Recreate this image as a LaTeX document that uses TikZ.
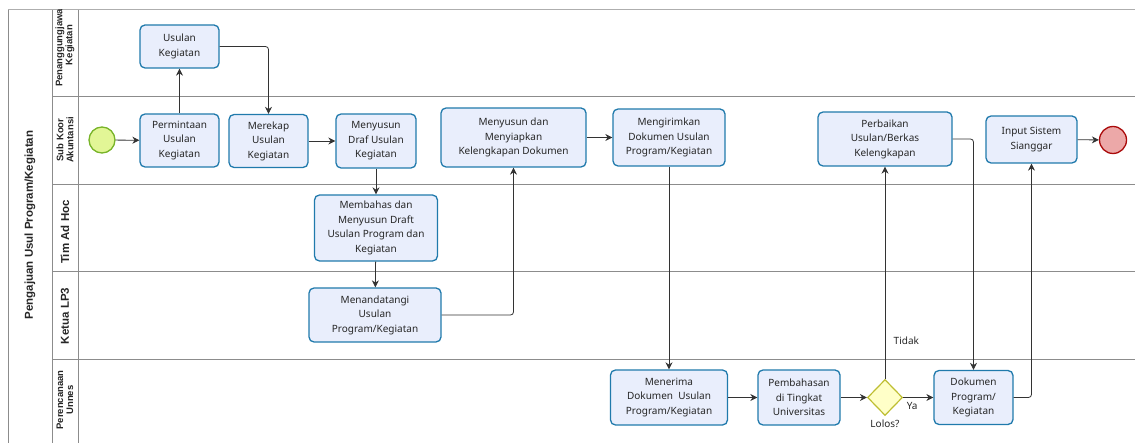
\documentclass[tikz,border=0pt]{standalone}
\usepackage{fontspec}
\setmainfont{Noto Sans}
\newfontfamily\lanefont{Liberation Sans}
\usepackage{xcolor}
\usepackage{tikz}
\usetikzlibrary{arrows.meta,shapes.geometric}

\definecolor{taskfill}{RGB}{233,238,252}
\definecolor{taskline}{RGB}{32,122,172}
\definecolor{startfill}{RGB}{226,246,150}
\definecolor{startline}{RGB}{120,180,40}
\definecolor{endfill}{RGB}{236,168,168}
\definecolor{endline}{RGB}{170,10,10}
\definecolor{gatefill}{RGB}{255,255,200}
\definecolor{gateline}{RGB}{190,190,50}
\definecolor{laneline}{RGB}{140,140,140}

\begin{document}
\begin{tikzpicture}[
  x=1pt, y=-1pt,
  font=\fontsize{10}{14.5}\selectfont,
  task/.style={rectangle, rounded corners=5pt, draw=taskline, fill=taskfill,
               line width=1.3pt, align=center, inner sep=0pt, text=black!85},
  event/.style={circle, inner sep=0pt, minimum size=26pt, line width=1.3pt},
  gate/.style={diamond, draw=gateline, fill=gatefill, line width=1.2pt,
               inner sep=0pt, minimum width=35pt, minimum height=36pt},
  lane/.style={draw=laneline, line width=1pt},
  lanelbl/.style={rotate=90, font=\lanefont\fontsize{9.5}{10}\selectfont\bfseries,
                  align=center, text=black!85},
  biglbl/.style={lanelbl, font=\lanefont\fontsize{11.5}{13}\selectfont\bfseries},
  arr/.style={-{Stealth[length=7pt,width=7pt]}, line width=0.8pt, black!80,
              rounded corners=3pt},
  tag/.style={text=black!85},
]
\useasboundingbox (0,0) rectangle (1135,443);

%% ---- Pool and lanes ----
\draw[laneline!70, line width=1pt] (8,10) -- (1135,10);
\draw[lane] (8,10) -- (8,443);
\draw[lane] (52,10) -- (52,443);
\draw[lane] (78,10) -- (78,443);
\foreach \y in {97,185,272,360}
  \draw[lane] (52,\y) -- (1135,\y);

\node[biglbl] (pool) at (30,225) {Pengajuan Usul Program/Kegiatan};
\begin{scope}
  \clip (52,10) rectangle (78,97);
  \node[lanelbl] (pj) at (65,45) {Penanggungjawab\\Kegiatan};
\end{scope}
\node[lanelbl] (sub)  at (65,140) {Sub Koor\\Akuntansi};
\node[biglbl]  (tim)  at (65,232) {Tim Ad Hoc};
\node[biglbl]  (lp3)  at (65,316) {Ketua LP3};
\node[lanelbl] (unn)  at (65,400) {Perencanaan\\Unnes};

%% ---- Events ----
\node[event, draw=startline, fill=startfill] (start) at (102,140) {};
\node[event, draw=endline, fill=endfill, minimum size=27pt] (end) at (1113,140) {};

%% ---- Tasks ----
\node[task, minimum width=79pt, minimum height=43pt] (usulan) at (179.5,46.5)
  {Usulan\\Kegiatan};
\node[task, minimum width=79pt, minimum height=53pt] (permintaan) at (179.5,140.5)
  {Permintaan\\Usulan\\Kegiatan};
\node[task, minimum width=79pt, minimum height=53pt] (merekap) at (268.5,141)
  {Merekap\\Usulan\\Kegiatan};
\node[task, minimum width=80pt, minimum height=54pt] (draf) at (376,141)
  {Menyusun\\Draf Usulan\\Kegiatan};
\node[task, minimum width=123pt, minimum height=66pt] (membahas) at (376,228)
  {Membahas dan\\Menyusun Draft\\Usulan Program dan\\Kegiatan};
\node[task, minimum width=132pt, minimum height=54pt] (tandatangi) at (375,315)
  {Menandatangi\\Usulan\\Program/Kegiatan};
\node[task, minimum width=145pt, minimum height=59pt] (siapkan) at (513.5,137.5)
  {Menyusun dan\\Menyiapkan\\Kelengkapan Dokumen};
\node[task, minimum width=112pt, minimum height=57pt] (kirim) at (669,137.5)
  {Mengirimkan\\Dokumen Usulan\\Program/Kegiatan};
\node[task, minimum width=117pt, minimum height=55pt] (terima) at (669,397.5)
  {Menerima\\Dokumen\ \ Usulan\\Program/Kegiatan};
\node[task, minimum width=82pt, minimum height=55pt] (bahas) at (799,397.5)
  {Pembahasan\\di Tingkat\\Universitas};
\node[gate, label={[tag]below:Lolos?}] (lolos) at (885,397.5) {};
\node[task, minimum width=134pt, minimum height=54pt] (perbaikan) at (885,139)
  {Perbaikan\\Usulan/Berkas\\Kelengkapan};
\node[task, minimum width=79pt, minimum height=54pt] (dokumen) at (973.5,397.5)
  {Dokumen\\Program/\\Kegiatan};
\node[task, minimum width=91pt, minimum height=47pt] (input) at (1031.5,139.5)
  {Input Sistem\\Sianggar};

%% ---- Flows ----
\draw[arr] (start) -- (permintaan);
\draw[arr] (permintaan) -- (usulan);
\draw[arr] (usulan.east) -| (merekap.north);
\draw[arr] (merekap) -- (draf);
\draw[arr] (draf) -- (membahas);
\draw[arr] (membahas) -- (tandatangi);
\draw[arr] (tandatangi.east) -| (siapkan.south);
\draw[arr] (siapkan) -- (kirim);
\draw[arr] (kirim) -- (terima);
\draw[arr] (terima) -- (bahas);
\draw[arr] (bahas) -- (lolos);
\draw[arr] (lolos) -- node[tag, pos=0.18, right=5pt] {Tidak} (perbaikan);
\draw[arr] (lolos) -- node[tag, pos=0.3, below=1pt] {Ya} (dokumen);
\draw[arr] (perbaikan.east) -| (dokumen.north);
\draw[arr] (dokumen.east) -| (input.south);
\draw[arr] (input) -- (end);

\end{tikzpicture}
\end{document}
